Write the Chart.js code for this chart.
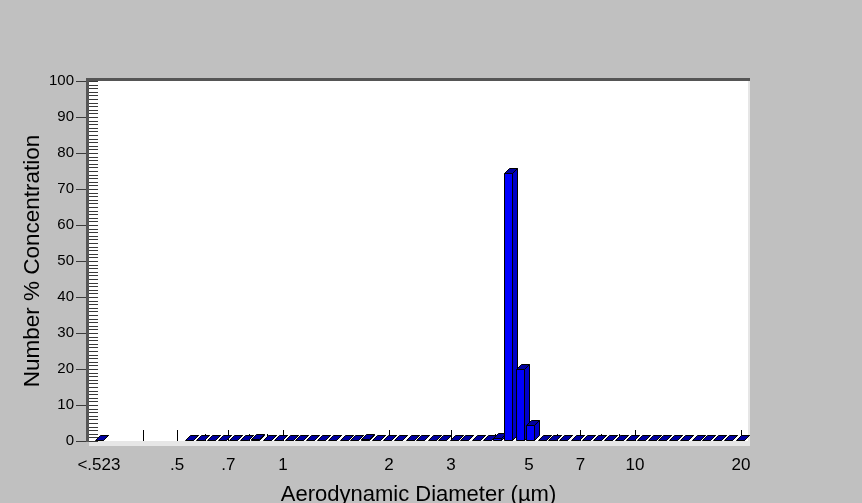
<!DOCTYPE html>
<html>
<head>
<meta charset="utf-8">
<script src="https://cdn.jsdelivr.net/npm/chart.js@4.4.1/dist/chart.umd.min.js"></script>
<style>
  html, body { margin: 0; padding: 0; background: #c0c0c0; }
  #wrap { width: 862px; height: 503px; }
</style>
</head>
<body>
<div id="wrap"><canvas id="c" width="862" height="503"></canvas></div>
<script>
// APS size channels: midpoint aerodynamic diameter (µm).
// The first bin collects everything below 0.523 µm and is drawn at its own slot on the left.
const channelLabels = ['<.523', '0.542', '0.583', '0.626', '0.673', '0.723', '0.777', '0.835', '0.898', '0.965',
  '1.037', '1.114', '1.197', '1.286', '1.382', '1.486', '1.596', '1.715', '1.843', '1.981',
  '2.129', '2.288', '2.458', '2.642', '2.839', '3.051', '3.278', '3.523', '3.786', '4.068',
  '4.371', '4.698', '5.048', '5.425', '5.829', '6.264', '6.732', '7.234', '7.774', '8.354',
  '8.977', '9.647', '10.37', '11.14', '11.97', '12.86', '13.82', '14.86', '15.96', '17.15',
  '18.43', '19.81'];
const channelDiameters = [0.3, 0.542, 0.583, 0.626, 0.673, 0.723, 0.777, 0.835, 0.898, 0.965,
  1.037, 1.114, 1.197, 1.286, 1.382, 1.486, 1.596, 1.715, 1.843, 1.981,
  2.129, 2.288, 2.458, 2.642, 2.839, 3.051, 3.278, 3.523, 3.786, 4.068,
  4.371, 4.698, 5.048, 5.425, 5.829, 6.264, 6.732, 7.234, 7.774, 8.354,
  8.977, 9.647, 10.37, 11.14, 11.97, 12.86, 13.82, 14.86, 15.96, 17.15,
  18.43, 19.81];
// Number % concentration per channel
const numberPercent = [0, 0, 0.1, 0, 0, 0, 0.1, 0.2, 0, 0,
  0, 0, 0, 0, 0, 0, 0, 0.2, 0.1, 0,
  0, 0, 0, 0.1, 0.1, 0, 0, 0, 0.1, 0.6,
  74.2, 19.7, 4.2, 0, 0.1, 0.1, 0, 0.1, 0, 0.1,
  0.1, 0, 0, 0, 0, 0, 0, 0, 0, 0,
  0, 0];

// x axis tick positions and their labels
const xLabelTicks = [0.3, 0.5, 0.7, 1, 2, 3, 5, 7, 10, 20];
const xLabelText = ['<.523', '.5', '.7', '1', '2', '3', '5', '7', '10', '20'];
const xMajorMarks = [0.4, 0.5, 0.7, 1, 2, 3, 5, 7, 10, 20];
const xMinorMarks = [0.6, 0.8, 0.9, 4, 6, 8, 9];
// y axis
const yMin = 0, yMax = 100, yStep = 10, yMinorStep = 1;

const FONT = '"Liberation Sans", Arial, sans-serif';
const DEPTH_X = 5, DEPTH_Y = 5;   // 3D offset of the bar depth
const BAR_LIFT = 1;               // bars stand slightly back on the floor
const COLORS = { front: '#0000ff', side: '#0000c8', top: '#0000a0', edge: '#000000' };

const frame = {
  id: 'frame',
  beforeDraw(chart) {
    const { ctx, chartArea: a } = chart;
    ctx.save();
    ctx.fillStyle = '#c0c0c0';
    ctx.fillRect(0, 0, chart.width, chart.height);
    // plot wall
    ctx.fillStyle = '#ffffff';
    ctx.fillRect(a.left, a.top, a.right - a.left, a.bottom - a.top);
    // floor and right wall edge
    ctx.fillStyle = '#e6e6e6';
    ctx.fillRect(a.left, a.bottom, a.right - a.left + 2, 5);
    ctx.fillRect(a.right, a.top, 2, a.bottom - a.top + 5);
    ctx.restore();
  },
  beforeDatasetsDraw(chart) {
    const { ctx, chartArea: a, scales } = chart;
    const x = scales.x;
    ctx.save();
    ctx.strokeStyle = '#000';
    ctx.lineWidth = 1;
    ctx.beginPath();
    xMajorMarks.forEach(v => {
      const px = Math.round(x.getPixelForValue(v)) + 0.5;
      ctx.moveTo(px, a.bottom); ctx.lineTo(px, a.bottom - 11);
    });
    xMinorMarks.forEach(v => {
      const px = Math.round(x.getPixelForValue(v)) + 0.5;
      ctx.moveTo(px, a.bottom); ctx.lineTo(px, a.bottom - 7);
    });
    ctx.stroke();
    ctx.restore();
  },
  afterDatasetsDraw(chart) {
    const { ctx } = chart;
    const meta = chart.getDatasetMeta(0);
    ctx.save();
    ctx.lineWidth = 1;
    ctx.strokeStyle = COLORS.edge;
    meta.data.forEach(el => {
      const p = el.getProps(['x', 'y', 'base', 'width'], true);
      const x0 = Math.round(p.x - p.width / 2) + 0.5;
      const x1 = Math.round(p.x + p.width / 2) + 0.5;
      const top = Math.round(p.y) - BAR_LIFT + 0.5;
      const bot = Math.round(p.base) - BAR_LIFT + 0.5;
      // side face
      ctx.beginPath();
      ctx.moveTo(x1, bot); ctx.lineTo(x1 + DEPTH_X, bot - DEPTH_Y);
      ctx.lineTo(x1 + DEPTH_X, top - DEPTH_Y); ctx.lineTo(x1, top); ctx.closePath();
      ctx.fillStyle = COLORS.side; ctx.fill(); ctx.stroke();
      // top face
      ctx.beginPath();
      ctx.moveTo(x0, top); ctx.lineTo(x0 + DEPTH_X, top - DEPTH_Y);
      ctx.lineTo(x1 + DEPTH_X, top - DEPTH_Y); ctx.lineTo(x1, top); ctx.closePath();
      ctx.fillStyle = COLORS.top; ctx.fill(); ctx.stroke();
      // front face
      if (bot - top >= 1) {
        ctx.beginPath();
        ctx.rect(x0, top, x1 - x0, bot - top);
        ctx.fillStyle = COLORS.front; ctx.fill(); ctx.stroke();
      }
    });
    ctx.restore();
  },
  afterDraw(chart) {
    const { ctx, chartArea: a, scales } = chart;
    const y = scales.y;
    ctx.save();
    // top border and y axis line
    ctx.fillStyle = '#555555';
    ctx.fillRect(a.left - 3, a.top - 3, a.right - a.left + 5, 3);
    ctx.fillRect(a.left - 3, a.top - 3, 3, a.bottom - a.top + 4);
    ctx.strokeStyle = '#3a3a3a';
    ctx.lineWidth = 1;
    ctx.beginPath();
    for (let v = yMin; v <= yMax; v += yMinorStep) {
      const py = Math.round(y.getPixelForValue(v)) + 0.5;
      ctx.moveTo(a.left, py); ctx.lineTo(a.left + 9, py);
      if (v % yStep === 0) { ctx.moveTo(a.left - 13, py); ctx.lineTo(a.left - 3, py); }
    }
    ctx.stroke();
    ctx.restore();
  }
};

new Chart(document.getElementById('c'), {
  type: 'bar',
  data: {
    labels: channelLabels,
    datasets: [{
      label: 'Number % Concentration',
      data: channelDiameters.map((d, i) => ({ x: d, y: numberPercent[i] })),
      backgroundColor: 'rgba(0,0,0,0)',
      borderWidth: 0,
      barThickness: 8
    }]
  },
  options: {
    responsive: false,
    animation: false,
    events: [],
    layout: { padding: { left: 0, top: 81, right: 114, bottom: 0 } },
    plugins: { legend: { display: false }, tooltip: { enabled: false } },
    scales: {
      x: {
        type: 'logarithmic',
        min: 0.2812, max: 20.94,
        bounds: 'data',
        offset: false,
        grid: { display: false, drawTicks: false },
        border: { display: false },
        afterBuildTicks(scale) { scale.ticks = xLabelTicks.map(v => ({ value: v })); },
        afterFit(scale) { scale.height = 62; },
        ticks: {
          autoSkip: false, maxRotation: 0, minRotation: 0,
          padding: 14,
          color: '#000',
          font: { family: FONT, size: 17 },
          callback: (v, i) => xLabelText[i]
        },
        title: {
          display: true,
          text: 'Aerodynamic Diameter (µm)',
          color: '#000',
          font: { family: FONT, size: 22, lineHeight: 1 },
          padding: { top: 0, bottom: -3 }
        }
      },
      y: {
        min: yMin, max: yMax,
        grid: { display: false, drawTicks: false },
        border: { display: false },
        afterFit(scale) { scale.width = 89; },
        ticks: {
          stepSize: yStep,
          padding: 15,
          color: '#000',
          font: { family: FONT, size: 15 }
        },
        title: {
          display: true,
          text: 'Number % Concentration',
          color: '#000',
          font: { family: FONT, size: 22.5, lineHeight: 1 },
          padding: { top: 22, bottom: 0 }
        }
      }
    }
  },
  plugins: [frame]
});
</script>
</body>
</html>
